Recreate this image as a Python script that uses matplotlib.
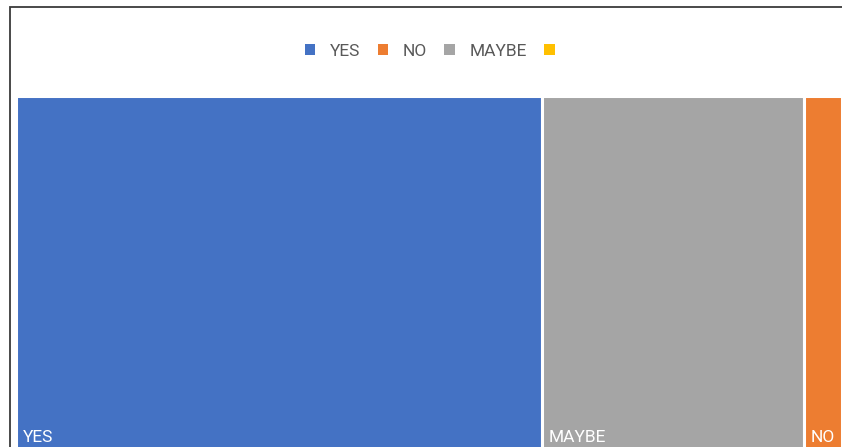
import numpy as np
import matplotlib.pyplot as plt
from matplotlib.patches import Rectangle, Patch

# 樹狀圖資料
labels = ['YES', 'MAYBE', 'NO']
values = [14, 7, 1]
colors = ['#4472C4', '#A5A5A5', '#ED7D31']

legend_labels = ['YES', 'NO', 'MAYBE', '']
legend_colors = ['#4472C4', '#ED7D31', '#A5A5A5', '#FFC000']

plt.rcParams['font.family'] = ['Roboto', 'DejaVu Sans']

W, H = 842, 447
fig = plt.figure(figsize=(W / 100, H / 100), dpi=100)
fig.patch.set_facecolor('white')

# 外框（右側與底部被裁掉）
fig.add_artist(Rectangle((10 / W, -0.1), 1.2, 1 - 7 / H + 0.1, transform=fig.transFigure,
                         fill=False, edgecolor='#3a3a3a', linewidth=1.3))

ax = fig.add_axes([16 / W, -0.06, 1 - 16 / W, 1 - 96 / H + 0.06])
ax.set_axis_off()

total = sum(values)
starts = np.concatenate([[0], np.cumsum(values)[:-1]]) / total
widths = np.array(values) / total
for x0, w, lab, c in zip(starts, widths, labels, colors):
    ax.add_patch(Rectangle((x0, 0), w, 1, facecolor=c, edgecolor='white', linewidth=2.2))
    ax.text(x0 + 0.008, 0.085, lab, color='white', fontsize=12.5, ha='left', va='baseline')
ax.set_xlim(0, 1)
ax.set_ylim(0, 1)

handles = [Patch(facecolor=c, edgecolor='none') for c in legend_colors]
fig.legend(handles, legend_labels, loc='center', bbox_to_anchor=(437 / W, 1 - 51 / H),
           ncol=4, frameon=False, fontsize=12.5, labelcolor='#595959',
           handlelength=0.6, handleheight=0.6, handletextpad=0.85, columnspacing=1.0)

fig.savefig('out.png', dpi=100)
